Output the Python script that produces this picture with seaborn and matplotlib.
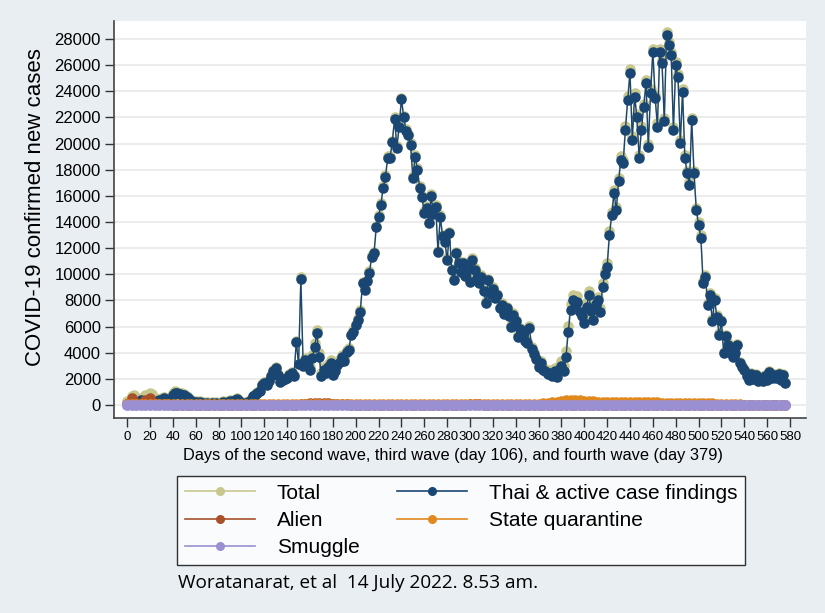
import numpy as np
import pandas as pd
import seaborn as sns
import matplotlib
matplotlib.use('Agg')
import matplotlib.pyplot as plt
from matplotlib.lines import Line2D

# day grid for the main series (every 2nd day) and the small series (every 4th day)
days = np.arange(0, 577, 2)
days_small = np.arange(0, 577, 4)

thai = [
    100, 150, 100, 200, 150, 250, 350, 200, 300, 250,
    300, 200, 250, 300, 350, 400, 500, 350, 300, 450,
    800, 950, 900, 850, 800, 750, 600, 450, 300, 250,
    200, 150, 200, 150, 100, 150, 100, 150, 100, 150,
    100, 150, 200, 150, 200, 300, 250, 350, 450, 300,
    150, 100, 150, 200, 350, 650, 800, 950, 1100, 1500,
    1700, 1500, 1850, 2200, 2600, 2800, 2300, 1750, 1900, 2000,
    2100, 2300, 2450, 2200, 4850, 3100, 9650, 3000, 3450, 3000,
    2700, 3600, 4450, 5500, 3700, 2200, 2700, 2450, 2900, 3200,
    2300, 2600, 3050, 3300, 3700, 3400, 4050, 4200, 5350, 5600,
    6100, 6500, 7150, 9300, 8800, 9450, 10100, 11350, 11600, 13600,
    14400, 15300, 16600, 17450, 18900, 18900, 20100, 21900, 19700, 21300,
    23400, 22000, 21000, 20650, 19900, 17400, 19000, 18000, 16600, 15900,
    14700, 15100, 13900, 16000, 14600, 15150, 11700, 14400, 12900, 12500,
    11100, 13150, 10300, 9550, 11600, 10900, 10200, 10850, 9900, 10400,
    9400, 11100, 10300, 9700, 9300, 9800, 8700, 7800, 9550, 8500,
    8900, 8200, 8400, 7400, 7650, 7000, 7400, 6800, 5970, 6900,
    6400, 5200, 5800, 5500, 4900, 4740, 5900, 4300, 3900, 3500,
    2900, 3200, 2700, 2600, 2400, 2450, 2200, 2600, 2150, 2700,
    3000, 2600, 3700, 5600, 7300, 8000, 7500, 7900, 7100, 6800,
    6250, 7500, 8400, 7200, 6500, 7700, 8000, 7150, 9050, 10000,
    10580, 13000, 14500, 16200, 14900, 17100, 18750, 18500, 21050, 23350,
    25400, 20300, 23600, 22000, 18900, 21050, 22800, 24600, 19750, 23900,
    27000, 23500, 21300, 27000, 26150, 21700, 28300, 27550, 26800, 21050,
    26000, 25100, 20050, 23950, 18900, 17750, 16850, 21800, 17750, 14900,
    13800, 12800, 9300, 9800, 7650, 8400, 6400, 8000, 6750, 5350,
    6400, 3950, 5250, 4600, 4000, 3700, 3950, 4600, 3200, 2900,
    2700, 2200, 1900, 2400, 2000, 2300, 1800, 2100, 1800, 2200,
    1900, 2550, 2100, 2300, 2050, 2400, 1900, 2300, 1700,
]

alien = [
    100, 500, 150, 100, 350, 550, 100, 50, 50, 50,
    30, 30, 20, 20, 20, 20, 20, 20, 20, 20,
    20, 20, 20, 20, 20, 20, 20, 20, 20, 20,
    20, 20, 20, 20, 20, 20, 20, 20, 40, 80,
    120, 150, 150, 130, 120, 110, 100, 60, 40, 30,
    30, 30, 30, 30, 30, 30, 30, 30, 30, 30,
    30, 30, 30, 30, 30, 30, 30, 30, 30, 30,
    30, 30, 30, 30, 30, 80, 100, 60, 30, 30,
    30, 30, 30, 30, 30, 30, 30, 30, 30, 30,
    30, 30, 30, 30, 30, 30, 30, 30, 30, 30,
    30, 30, 30, 30, 30, 30, 30, 30, 30, 30,
    30, 30, 30, 30, 30, 30, 30, 30, 30, 30,
    30, 30, 20, 20, 20, 20, 20, 20, 20, 20,
    20, 20, 20, 20, 20, 20, 20, 20, 20, 20,
    20, 20, 20, 20, 20,
]

quarantine = [
    60, 80, 60, 80, 100, 80, 60, 60, 50, 50,
    50, 50, 50, 40, 40, 40, 40, 40, 40, 40,
    40, 40, 40, 40, 40, 40, 40, 40, 40, 40,
    40, 40, 40, 40, 40, 40, 40, 40, 60, 80,
    80, 100, 100, 100, 100, 100, 100, 90, 80, 80,
    80, 80, 80, 80, 80, 80, 80, 80, 80, 80,
    80, 80, 80, 80, 80, 80, 80, 80, 80, 80,
    80, 80, 80, 80, 80, 80, 80, 80, 80, 80,
    80, 80, 80, 80, 80, 80, 80, 80, 80, 90,
    100, 120, 150, 200, 250, 330, 380, 400, 380, 350,
    320, 300, 280, 260, 250, 250, 240, 240, 230, 230,
    230, 220, 220, 210, 200, 200, 200, 190, 180, 180,
    170, 160, 160, 150, 150, 140, 140, 130, 120, 110,
    100, 80, 60, 50, 40, 30, 30, 30, 30, 30,
    30, 30, 30, 30, 30,
]

smuggle = [
    10, 10, 10, 10, 10, 10, 10, 10, 10, 10,
    10, 10, 10, 10, 10, 10, 10, 10, 10, 10,
    10, 10, 10, 10, 10, 10, 10, 10, 10, 10,
    10, 10, 10, 10, 10, 10, 10, 10, 10, 10,
    10, 10, 10, 10, 10, 10, 10, 10, 10, 10,
    10, 10, 10, 10, 10, 10, 10, 10, 10, 10,
    10, 10, 10, 10, 10, 10, 10, 10, 10, 10,
    10, 10, 10, 10, 10, 10, 10, 10, 10, 10,
    10, 10, 10, 10, 10, 10, 10, 10, 10, 10,
    10, 10, 10, 10, 10, 10, 10, 10, 10, 10,
    10, 10, 10, 10, 10, 10, 10, 10, 10, 10,
    10, 10, 10, 10, 10, 10, 10, 10, 10, 10,
    10, 10, 10, 10, 10, 10, 10, 10, 10, 10,
    10, 10, 10, 10, 10, 10, 10, 10, 10, 10,
    10, 10, 10, 10, 10,
]

x_ticks = list(range(0, 581, 20))
y_ticks = list(range(0, 28001, 2000))

colors = {
    'Total': '#c8c88e',
    'Thai & active case findings': '#1a4673',
    'Alien': '#a8502a',
    'State quarantine': '#e0891f',
    'Smuggle': '#9a8fd0',
}

# total = sum of the parts on the common 2-day grid
small = pd.DataFrame({'day': days_small, 'alien': alien,
                      'quarantine': quarantine, 'smuggle': smuggle}).set_index('day')
small = small.reindex(days).ffill()
total = np.array(thai) + small['alien'].values + small['quarantine'].values + small['smuggle'].values

plt.rcParams['font.family'] = ['Liberation Sans', 'DejaVu Sans']

bg = '#e8eef2'
fig = plt.figure(figsize=(8.25, 6.13), dpi=100, facecolor=bg)
ax = fig.add_axes([114 / 825, 1 - 418 / 613, (806 - 114) / 825, (418 - 21) / 613])
ax.set_facecolor('white')

ms = 7.6
sns.lineplot(x=days, y=total, ax=ax, color=colors['Total'], marker='o',
             markersize=ms, markeredgewidth=0, linewidth=1)
sns.lineplot(x=days, y=thai, ax=ax, color=colors['Thai & active case findings'], marker='o',
             markersize=ms, markeredgewidth=0, linewidth=1)
sns.lineplot(x=days_small, y=alien, ax=ax, color=colors['Alien'], marker='o',
             markersize=ms, markeredgewidth=0, linewidth=1)
sns.lineplot(x=days_small, y=quarantine, ax=ax, color=colors['State quarantine'], marker='o',
             markersize=ms, markeredgewidth=0, linewidth=1)
sns.lineplot(x=days_small, y=smuggle, ax=ax, color=colors['Smuggle'], marker='o',
             markersize=ms + 0.2, markeredgewidth=0, linewidth=6)

ax.set_xlim(-11.5, 594)
ax.set_ylim(-995, 29380)
ax.set_xticks(x_ticks)
ax.set_xticklabels([str(t) for t in x_ticks], fontsize=9.5)
ax.set_yticks(y_ticks)
ax.set_yticklabels([str(t) for t in y_ticks], fontsize=12)
ax.tick_params(axis='both', direction='out', length=6.5, width=1, color='#333333', pad=3)
ax.tick_params(axis='x', pad=3)
ax.yaxis.grid(True, color='#ececec', linewidth=1.5)
ax.xaxis.grid(False)
ax.set_axisbelow(True)
for side in ['top', 'right']:
    ax.spines[side].set_visible(False)
for side in ['left', 'bottom']:
    ax.spines[side].set_color('#444444')
    ax.spines[side].set_linewidth(1.2)

ax.set_xlabel('Days of the second wave, third wave (day 106), and fourth wave (day 379)',
              fontsize=11.8, labelpad=2)
ax.xaxis.set_label_coords(0.49, -0.075)
ax.set_ylabel('COVID-19 confirmed new cases', fontsize=16)
ax.yaxis.set_label_coords(-0.098, 0.531)

order = ['Total', 'Alien', 'Smuggle', 'Thai & active case findings', 'State quarantine']
handles = [Line2D([0], [0], color=colors[k], marker='o', markersize=6.5,
                  markeredgewidth=0, linewidth=1.2) for k in order]
leg = fig.legend(handles, order, ncol=2, loc='center',
                 bbox_to_anchor=(461 / 825, 1 - 520.5 / 613),
                 fontsize=15, frameon=True, fancybox=False, edgecolor='black',
                 handlelength=3.36, columnspacing=1.78, labelspacing=0.4,
                 borderpad=0.38, handletextpad=1.05, borderaxespad=0)
leg.get_frame().set_linewidth(1)

fig.text(178 / 825, 1 - 583 / 613, 'Woratanarat, et al  14 July 2022. 8.53 am.',
         fontsize=13.7, va='center', ha='left', family='Open Sans')

fig.savefig('out.png', dpi=100, facecolor=bg)
